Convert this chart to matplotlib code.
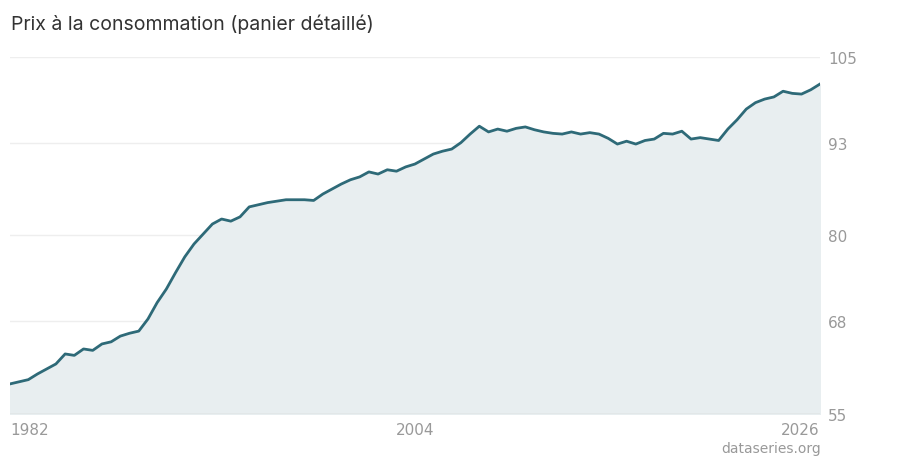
import matplotlib
matplotlib.use("Agg")
import matplotlib.pyplot as plt
import numpy as np

years = [1982,1982.5,1983,1983.5,1984,1984.5,1985,1985.5,1986,1986.5,1987,1987.5,1988,1988.5,1989,1989.5,
         1990,1990.5,1991,1991.5,1992,1992.5,1993,1993.5,1994,1994.5,1995,1995.5,1996,1996.5,1997,1997.5,
         1998,1998.5,1999,1999.5,2000,2000.5,2001,2001.5,2002,2002.5,2003,2003.5,2004,2004.5,2005,2005.5,
         2006,2006.5,2007,2007.5,2008,2008.5,2009,2009.5,2010,2010.5,2011,2011.5,2012,2012.5,2013,2013.5,
         2014,2014.5,2015,2015.5,2016,2016.5,2017,2017.5,2018,2018.5,2019,2019.5,2020,2020.5,2021,2021.5,
         2022,2022.5,2023,2023.5,2024,2024.5,2025,2025.5,2026]
values = [59.2,59.5,59.8,60.6,61.3,62.0,63.4,63.2,64.1,63.9,64.8,65.1,65.9,66.3,66.6,68.3,
          70.6,72.5,74.8,77.0,78.8,80.2,81.6,82.3,82.0,82.6,84.0,84.3,84.6,84.8,85.0,85.0,
          85.0,84.9,85.8,86.5,87.2,87.8,88.2,88.9,88.6,89.2,89.0,89.6,90.0,90.7,91.4,91.8,
          92.1,93.0,94.2,95.3,94.5,94.9,94.6,95.0,95.2,94.8,94.5,94.3,94.2,94.5,94.2,94.4,
          94.2,93.6,92.8,93.2,92.8,93.3,93.5,94.3,94.2,94.6,93.5,93.7,93.5,93.3,94.9,96.2,
          97.7,98.6,99.1,99.4,100.2,99.9,99.8,100.4,101.2]

fig = plt.figure(figsize=(9, 4.6), dpi=100)
ax = fig.add_axes([0.011, 0.098, 0.9, 0.776])
ax.plot(years, values, color="#2e6a78", lw=2)
ax.fill_between(years, values, 55, color="#e8eef0")
ax.set_xlim(1982, 2026)
ax.set_ylim(55, 105)
ax.yaxis.tick_right()
ax.set_yticks([55, 68, 80, 93, 105])
ax.set_xticks([1982, 2004, 2026])
ax.set_xticklabels(["1982", "2004", "2026"])
ax.tick_params(length=0, labelsize=11, colors="#999999", pad=6)
for lab, ha in zip(ax.get_xticklabels(), ["left", "center", "right"]):
    lab.set_ha(ha)
ax.grid(axis="y", color="#eeeeee", lw=1)
ax.set_axisbelow(True)
for s in ax.spines.values():
    s.set_visible(False)
ax.axhline(55, color="#cccccc", lw=1)
fig.text(0.012, 0.935, "Prix à la consommation (panier détaillé)", fontsize=14, color="#333333", family="Inter")
fig.text(0.912, 0.015, "dataseries.org", fontsize=10, color="#999999", ha="right")
fig.savefig("out.png", dpi=100)
